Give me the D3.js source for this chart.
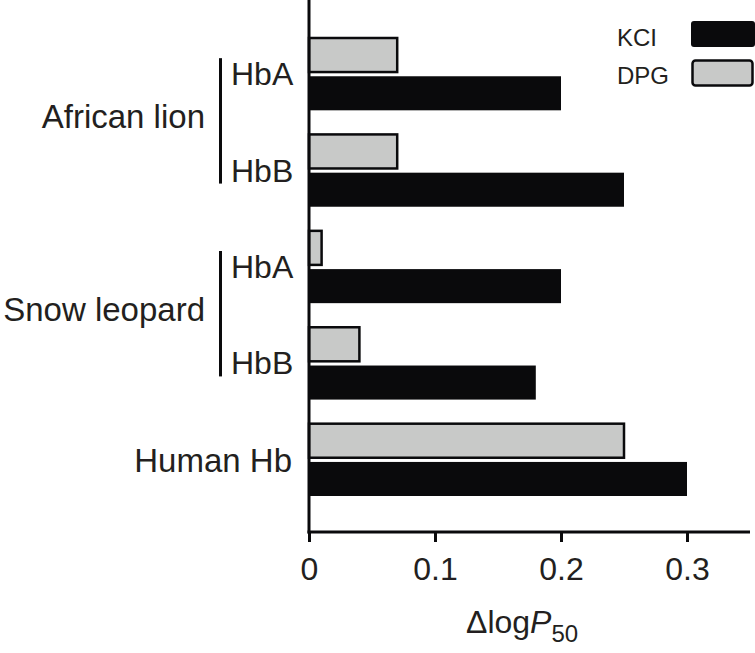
<!DOCTYPE html>
<html>
<head>
<meta charset="utf-8">
<script src="https://cdn.jsdelivr.net/npm/d3@7"></script>
<style>
  body { margin: 0; background: #fff; }
  text { font-family: "Liberation Sans", Arial, Helvetica, sans-serif; fill: #231f20; }
</style>
</head>
<body>
<div id="chart"></div>
<script>
// data
var rows = ["lionA", "lionB", "snowA", "snowB", "human"];
var rowLabels = ["HbA", "HbB", "HbA", "HbB", ""];
var species = ["African lion", "Snow leopard", "Human Hb"];
var speciesRows = [["lionA", "lionB"], ["snowA", "snowB"], ["human"]];
var series = ["DPG", "KCI"];
var dpgValues = [0.07, 0.07, 0.01, 0.04, 0.25];
var kclValues = [0.20, 0.25, 0.20, 0.18, 0.30];
var tickValues = [0, 0.1, 0.2, 0.3];
var tickLabels = ["0", "0.1", "0.2", "0.3"];
var legendItems = ["KCl", "DPG"];

var width = 755, height = 653;
var colors = { KCI: "#0a0a0c", DPG: "#c8c9c8" };

var svg = d3.select("#chart").append("svg")
  .attr("width", width)
  .attr("height", height);

var x = d3.scaleLinear().domain([0, 0.35]).range([309, 750]);

var y = d3.scaleBand().domain(rows).range([38, 496])
  .paddingInner(0.25).paddingOuter(0);

var ySub = d3.scaleBand().domain(series).range([0, y.bandwidth()])
  .paddingInner(0.11);

var data = [];
rows.forEach(function(r, i) {
  data.push({ row: r, s: "DPG", v: dpgValues[i] });
  data.push({ row: r, s: "KCI", v: kclValues[i] });
});

// bars
svg.append("g").selectAll("rect")
  .data(data)
  .enter().append("rect")
  .attr("x", x(0))
  .attr("y", function(d) { return y(d.row) + ySub(d.s); })
  .attr("width", function(d) { return x(d.v) - x(0); })
  .attr("height", ySub.bandwidth())
  .attr("fill", function(d) { return colors[d.s]; })
  .attr("stroke", function(d) { return d.s == "DPG" ? "#0a0a0c" : "none"; })
  .attr("stroke-width", 2.5);

// x axis
var xAxis = d3.axisBottom(x)
  .tickValues(tickValues)
  .tickFormat(function(d, i) { return tickLabels[i]; })
  .tickSize(10)
  .tickSizeOuter(0)
  .tickPadding(15);

var gx = svg.append("g")
  .attr("transform", "translate(0,532)")
  .call(xAxis);
gx.select(".domain").attr("stroke", "#0a0a0c").attr("stroke-width", 3)
  .attr("d", "M" + (x(0) - 1.5) + ",0H" + x.range()[1]);
gx.selectAll(".tick line").attr("stroke", "#0a0a0c").attr("stroke-width", 3);
gx.selectAll(".tick text")
  .attr("font-size", 32)
  .attr("font-family", "Liberation Sans, Arial, sans-serif")
  .attr("fill", "#231f20");

// y axis line
svg.append("line")
  .attr("x1", x(0)).attr("x2", x(0))
  .attr("y1", 0).attr("y2", 533.5)
  .attr("stroke", "#0a0a0c")
  .attr("stroke-width", 3);

// subunit labels
svg.append("g").selectAll("text")
  .data(rows.filter(function(r, i) { return rowLabels[i] != ""; }))
  .enter().append("text")
  .attr("x", 231)
  .attr("y", function(r) { return y(r) + y.bandwidth() / 2 + 11; })
  .attr("font-size", 32)
  .text(function(r) { return rowLabels[rows.indexOf(r)]; });

// species labels + brackets
species.forEach(function(sp, i) {
  var rs = speciesRows[i];
  var c0 = y(rs[0]) + y.bandwidth() / 2;
  var c1 = y(rs[rs.length - 1]) + y.bandwidth() / 2;
  var mid = (c0 + c1) / 2;
  var single = rs.length == 1;
  svg.append("text")
    .attr("x", single ? 292 : 205)
    .attr("y", single ? mid + 12 : mid + 6)
    .attr("text-anchor", "end")
    .attr("font-size", 33)
    .text(sp);
  if (!single) {
    svg.append("line")
      .attr("x1", 220.5).attr("x2", 220.5)
      .attr("y1", c0 - 16).attr("y2", c1 + 13)
      .attr("stroke", "#0a0a0c")
      .attr("stroke-width", 3);
  }
});

// legend
var legend = svg.append("g").selectAll("g")
  .data(legendItems)
  .enter().append("g")
  .attr("transform", function(d, i) { return "translate(0," + (i * 38) + ")"; });

legend.append("text")
  .attr("x", 617)
  .attr("y", 46)
  .attr("font-size", 24)
  .text(function(d) { return d == "KCl" ? "KCI" : d; });

legend.append("rect")
  .attr("x", function(d) { return d == "DPG" ? 692.5 : 691; })
  .attr("y", function(d) { return d == "DPG" ? 22.5 : 21; })
  .attr("width", function(d) { return d == "DPG" ? 60 : 64; })
  .attr("height", function(d) { return d == "DPG" ? 25 : 26; })
  .attr("rx", 3)
  .attr("fill", function(d) { return d == "DPG" ? colors.DPG : colors.KCI; })
  .attr("stroke", function(d) { return d == "DPG" ? "#0a0a0c" : "none"; })
  .attr("stroke-width", 2.5);

// axis title
var title = svg.append("text")
  .attr("x", 466)
  .attr("y", 633)
  .attr("font-size", 32);
title.append("tspan").text("\u0394log");
title.append("tspan").attr("font-style", "italic").text("P");
title.append("tspan").attr("font-size", 24).attr("dy", 9).text("50");
</script>
</body>
</html>
